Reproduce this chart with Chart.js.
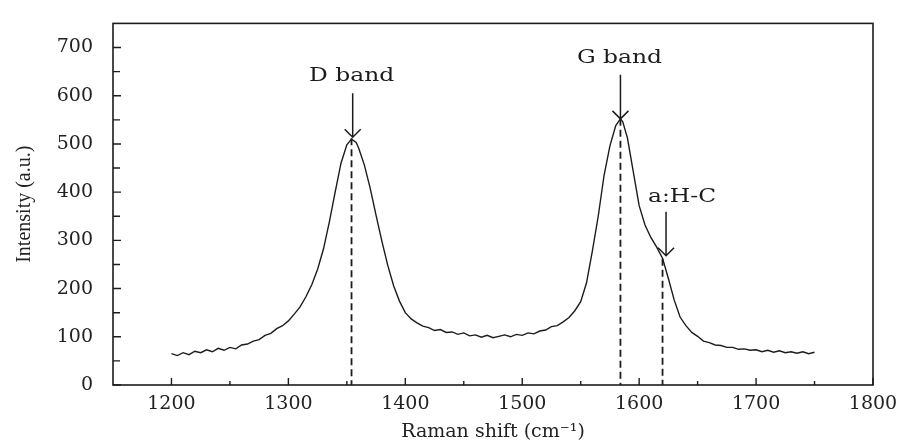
<!DOCTYPE html>
<html>
<head>
<meta charset="utf-8">
<script src="https://cdn.jsdelivr.net/npm/chart.js@4.4.1/dist/chart.umd.min.js"></script>
<style>
    html, body { margin: 0; padding: 0; background: #fff; }
</style>
</head>
<body>
<canvas id="raman" width="906" height="445"></canvas>
<script>

// Raman spectrum (cm-1 / a.u.)
const ramanShift = [
    1200, 1205, 1210, 1215, 1220, 1225, 1230, 1235, 1240, 1245,
    1250, 1255, 1260, 1265, 1270, 1275, 1280, 1285, 1290, 1295,
    1300, 1305, 1310, 1315, 1320, 1325, 1330, 1335, 1340, 1345,
    1350, 1354, 1358, 1360, 1365, 1370, 1375, 1380, 1385, 1390,
    1395, 1400, 1405, 1410, 1415, 1420, 1425, 1430, 1435, 1440,
    1445, 1450, 1455, 1460, 1465, 1470, 1475, 1480, 1485, 1490,
    1495, 1500, 1505, 1510, 1515, 1520, 1525, 1530, 1535, 1540,
    1545, 1550, 1555, 1560, 1565, 1570, 1575, 1580, 1584, 1586,
    1590, 1595, 1600, 1605, 1610, 1615, 1620, 1625, 1630, 1635,
    1640, 1645, 1650, 1655, 1660, 1665, 1670, 1675, 1680, 1685,
    1690, 1695, 1700, 1705, 1710, 1715, 1720, 1725, 1730, 1735,
    1740, 1745, 1750
];
const intensity = [
    65, 61, 67, 63, 70, 67, 73, 69, 76, 72,
    78, 75, 83, 85, 91, 94, 103, 107, 117, 123,
    133, 147, 162, 183, 208, 240, 282, 338, 400, 460,
    498, 510, 503, 492, 456, 408, 352, 298, 248, 206,
    174, 150, 137, 129, 122, 119, 113, 115, 109, 110,
    105, 108, 102, 104, 99, 103, 98, 101, 104, 100,
    105, 103, 108, 106, 112, 114, 121, 123, 131, 140,
    154, 173, 212, 278, 350, 435, 496, 538, 552, 546,
    512, 442, 372, 332, 306, 286, 263, 221, 176, 141,
    123, 109, 101, 91, 88, 83, 82, 78, 78, 74,
    75, 72, 73, 69, 72, 68, 71, 67, 69, 66,
    69, 65, 68
];

const xTickLabels = [1200, 1300, 1400, 1500, 1600, 1700, 1800];
const yTickLabels = [0, 100, 200, 300, 400, 500, 600, 700];

// marked bands: dashed drop line + arrow + label
const bandNames = ['D band', 'G band', 'a:H-C'];
const bandShift = [1354, 1584, 1620];
const bandIntensity = [512, 552, 262];
const arrowShift = [1355, 1584, 1623];
const arrowTip = [514, 552, 268];

const ink = '#1c1c1c';

// box, inward ticks, band markers
const decorations = {
    id: 'decorations',
    afterDatasetsDraw(chart) {
        const { ctx, chartArea: a, scales: { x, y } } = chart;
        ctx.save();
        ctx.strokeStyle = ink;
        ctx.fillStyle = ink;

        // dashed drop lines
        ctx.lineWidth = 1.8;
        ctx.setLineDash([7, 4]);
        bandShift.forEach((s, i) => {
            const px = x.getPixelForValue(s);
            ctx.beginPath();
            ctx.moveTo(px, y.getPixelForValue(bandIntensity[i]));
            ctx.lineTo(px, a.bottom);
            ctx.stroke();
        });
        ctx.setLineDash([]);

        // arrows
        ctx.lineWidth = 1.5;
        arrowShift.forEach((s, i) => {
            const px = x.getPixelForValue(s);
            const py = y.getPixelForValue(arrowTip[i]);
            ctx.beginPath();
            ctx.moveTo(px, py - 44);
            ctx.lineTo(px, py);
            ctx.moveTo(px - 8, py - 8);
            ctx.lineTo(px, py);
            ctx.lineTo(px + 8, py - 8);
            ctx.stroke();

            // label sits above the shaft (a:H-C is shifted right)
            const dx = i === 2 ? 16 : -1;
            ctx.save();
            ctx.translate(px + dx, py - (i === 2 ? 58 : 61));
            ctx.scale(1.3, 1);
            ctx.font = '18px "DejaVu Serif"';
            ctx.textAlign = 'center';
            ctx.textBaseline = 'middle';
            ctx.fillText(bandNames[i], 0, 0);
            ctx.restore();
        });

        // frame
        ctx.lineWidth = 1.6;
        ctx.strokeRect(a.left, a.top, a.width, a.height);

        // inward ticks
        ctx.lineWidth = 1.4;
        ctx.beginPath();
        xTickLabels.forEach((v, i) => {
            const px = x.getPixelForValue(v);
            ctx.moveTo(px, a.bottom);
            ctx.lineTo(px, a.bottom - 7);
            if (i > 0) {
                const mx = x.getPixelForValue((v + xTickLabels[i - 1]) / 2);
                ctx.moveTo(mx, a.bottom);
                ctx.lineTo(mx, a.bottom - 4);
            }
        });
        yTickLabels.forEach((v, i) => {
            const py = y.getPixelForValue(v);
            ctx.moveTo(a.left, py);
            ctx.lineTo(a.left + 8, py);
            if (i > 0) {
                const my = y.getPixelForValue((v + yTickLabels[i - 1]) / 2);
                ctx.moveTo(a.left, my);
                ctx.lineTo(a.left + 7, my);
            }
        });
        ctx.stroke();
        ctx.restore();
    }
};

const tickFont = { family: '"DejaVu Serif"', size: 19 };

new Chart(document.getElementById('raman'), {
    type: 'line',
    data: {
        datasets: [{
            data: ramanShift.map((s, i) => ({ x: s, y: intensity[i] })),
            borderColor: ink,
            borderWidth: 1.4,
            pointRadius: 0,
            tension: 0
        }]
    },
    options: {
        responsive: false,
        animation: false,
        layout: { padding: { top: 13, right: 33, left: 0, bottom: 0 } },
        plugins: {
            legend: { display: false },
            tooltip: { enabled: false }
        },
        scales: {
            x: {
                type: 'linear',
                min: 1150,
                max: 1800,
                grid: { display: false },
                border: { display: false },
                afterBuildTicks: (s) => { s.ticks = xTickLabels.map(v => ({ value: v })); },
                afterFit: (s) => { s.height = 60; },
                ticks: { font: tickFont, color: '#222', padding: 0, callback: (v) => String(v) },
                title: {
                    display: true,
                    text: 'Raman shift (cm⁻¹)',
                    font: { family: '"DejaVu Serif"', size: 19 },
                    color: '#222',
                    padding: { top: 0, bottom: 2 }
                }
            },
            y: {
                type: 'linear',
                min: 0,
                max: 750,
                grid: { display: false },
                border: { display: false },
                afterBuildTicks: (s) => { s.ticks = yTickLabels.map(v => ({ value: v })); },
                afterFit: (s) => { s.width = 113; },
                ticks: { font: tickFont, color: '#222', padding: 12, callback: (v) => String(v) },
                title: {
                    display: true,
                    text: 'Intensity (a.u.)',
                    font: { family: '"Liberation Serif"', size: 20 },
                    color: '#222',
                    padding: { top: 13, bottom: 0 }
                }
            }
        }
    },
    plugins: [decorations]
});

</script>
</body>
</html>
